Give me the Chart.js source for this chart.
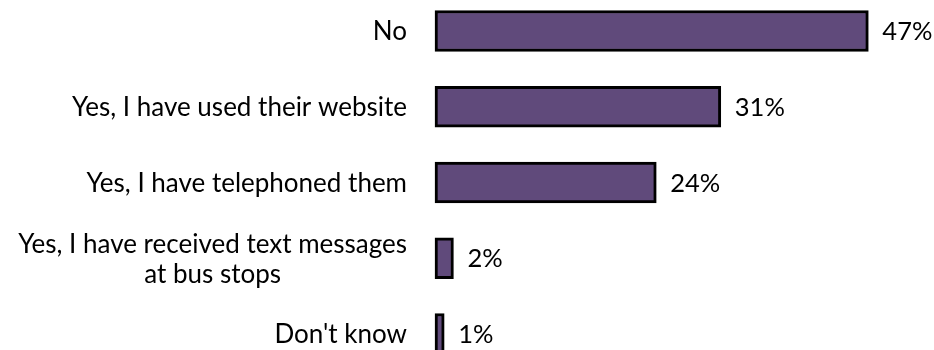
<!DOCTYPE html>
<html>
<head>
<meta charset="utf-8">
<script src="https://cdn.jsdelivr.net/npm/chart.js@4/dist/chart.umd.min.js"></script>
<style>
  body { margin: 0; background: #fff; }
  #wrap { width: 934px; height: 350px; position: relative; }
</style>
</head>
<body>
<div id="wrap"><canvas id="chart"></canvas></div>
<script>
// answers and shares (%)
const categories = [
    ['No'],
    ['Yes, I have used their website'],
    ['Yes, I have telephoned them'],
    ['Yes, I have received text messages', 'at bus stops'],
    ["Don't know"]
];
const shares = [47, 31, 24, 2, 1];

const LABEL_FONT = '26px Lato, "Open Sans", sans-serif';
const VALUE_FONT = '25.5px Lato, "Open Sans", sans-serif';

// y labels drawn by hand so the two-line one can be centred like the original
const labelPlugin = {
    id: 'labels',
    afterDatasetsDraw(chart) {
        const ctx = chart.ctx;
        const yScale = chart.scales.y;
        const meta = chart.getDatasetMeta(0);
        ctx.save();
        ctx.fillStyle = '#000';
        ctx.textBaseline = 'middle';
        ctx.font = LABEL_FONT;
        categories.forEach((lines, i) => {
            const y = yScale.getPixelForTick(i) + 1;
            const right = yScale.right - 28;
            const lh = 30;
            const maxW = Math.max(...lines.map(l => ctx.measureText(l).width));
            ctx.textAlign = 'center';
            lines.forEach((l, j) => {
                ctx.fillText(l, right - maxW / 2, y + (j - (lines.length - 1) / 2) * lh);
            });
        });
        // value labels
        ctx.font = VALUE_FONT;
        ctx.textAlign = 'left';
        meta.data.forEach((bar, i) => {
            ctx.fillText(shares[i] + '%', bar.x + 14, bar.y + 1);
        });
        ctx.restore();
    }
};

new Chart(document.getElementById('chart'), {
    type: 'bar',
    data: {
        labels: categories.map(c => c.join(' ')),
        datasets: [{
            data: shares,
            backgroundColor: '#604a7b',
            borderColor: '#000',
            borderWidth: 3,
            borderSkipped: false,
            barThickness: 41,
            clip: false
        }]
    },
    options: {
        indexAxis: 'y',
        responsive: true,
        maintainAspectRatio: false,
        animation: false,
        layout: { padding: { top: 31, bottom: 16, right: 38, left: 0 } },
        plugins: { legend: { display: false }, tooltip: { enabled: false } },
        scales: {
            x: { display: false, min: 0, max: 50 },
            y: {
                offset: false,
                grid: { display: false },
                border: { display: false },
                ticks: { display: false },
                afterFit(scale) { scale.width = 435; }
            }
        }
    },
    plugins: [labelPlugin]
});
</script>
</body>
</html>
